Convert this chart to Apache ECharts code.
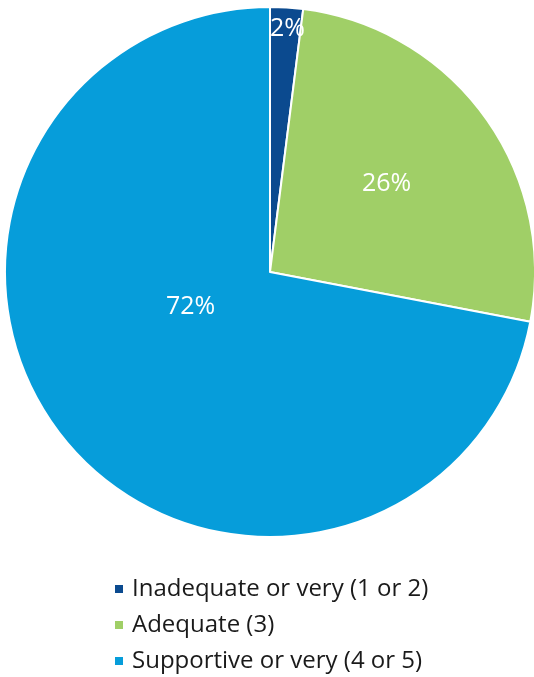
<!DOCTYPE html>
<html>
<head>
<meta charset="utf-8">
<script src="https://cdn.jsdelivr.net/npm/echarts@6/dist/echarts.min.js"></script>
<style>
  html, body { margin: 0; padding: 0; background: #ffffff; }
  #chart { width: 534px; height: 677px; }
</style>
</head>
<body>
<div id="chart"></div>
<script>
// Survey responses, share of each rating band
const categories = ['Inadequate or very (1 or 2)', 'Adequate (3)', 'Supportive or very (4 or 5)'];
const values = [2, 26, 72];
const colors = ['#0b4a8f', '#a0cf67', '#069dda'];

// Nudges for each slice label from its default inside spot
const labelShift = [[9, -108], [7, -8], [25, -51]];

const chart = echarts.init(document.getElementById('chart'));
chart.setOption({
  animation: false,
  color: colors,
  legend: {
    orient: 'vertical',
    left: 113,
    top: 575,
    padding: 0,
    itemWidth: 10,
    itemHeight: 10,
    itemGap: 8,
    icon: 'rect',
    textStyle: { fontFamily: 'Open Sans', fontSize: 24, color: '#1a1a1a', padding: [0, 0, 0, 3], lineHeight: 28 },
    data: categories
  },
  series: [{
    type: 'pie',
    center: [270, 272],
    radius: [0, 265],
    startAngle: 90,
    clockwise: true,
    itemStyle: { borderColor: '#ffffff', borderWidth: 2 },
    label: {
      show: true,
      position: 'inside',
      formatter: '{c}%',
      color: '#ffffff',
      fontFamily: 'Open Sans',
      fontSize: 25
    },
    labelLayout: function (params) {
      const s = labelShift[params.dataIndex];
      return { dx: s[0], dy: s[1] };
    },
    emphasis: { disabled: true },
    data: categories.map((name, i) => ({ name: name, value: values[i] }))
  }]
});
</script>
</body>
</html>
